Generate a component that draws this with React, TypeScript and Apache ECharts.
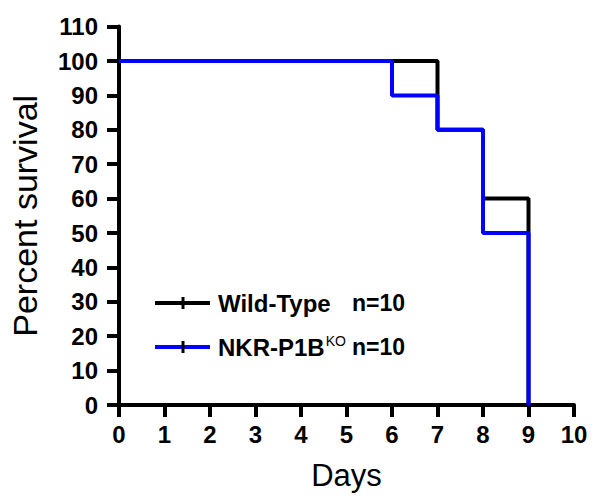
import React, { useEffect, useRef } from "react";
import * as echarts from "echarts";

const wtDays = [0, 7, 8, 9];
const wtSurvival = [100, 80, 60, 0];
const koDays = [0, 6, 7, 8, 9];
const koSurvival = [100, 90, 80, 50, 0];
const seriesNames = ["Wild-Type", "NKR-P1B"];
const seriesSup = ["", "KO"];
const seriesN = ["n=10", "n=10"];
const seriesColors = ["#000000", "#0000ff"];
const xTitle = "Days";
const yTitle = "Percent survival";

const FONT = "'Liberation Sans', Arial, sans-serif";

export default function App() {
  const ref = useRef<HTMLDivElement>(null);
  useEffect(() => {
    if (!ref.current) return;
    document.body.style.margin = "0";
    const chart = echarts.init(ref.current, null, { renderer: "svg" });
    const pair = (xs: number[], ys: number[]) => xs.map((x, i) => [x, ys[i]]);
    const legendY = [303, 347];
    const graphic: any[] = [];
    seriesNames.forEach((name, i) => {
      graphic.push({
        type: "line",
        shape: { x1: 155, y1: legendY[i], x2: 210, y2: legendY[i] },
        style: { stroke: seriesColors[i], lineWidth: 4 },
      });
      graphic.push({
        type: "line",
        shape: { x1: 183, y1: legendY[i] - 6, x2: 183, y2: legendY[i] + 6 },
        style: { stroke: "#000", lineWidth: 3 },
      });
      graphic.push({
        type: "text",
        x: 218,
        y: legendY[i],
        style: {
          text: seriesSup[i] ? `{a|${name}}{s|${seriesSup[i]}}` : `{a|${name}}`,
          verticalAlign: "middle",
          rich: {
            a: { fontFamily: FONT, fontWeight: "bold", fontSize: 24, fill: "#000" },
            s: { fontFamily: FONT, fontWeight: "normal", fontSize: 14, fill: "#000", padding: [0, 0, 12, 1] },
          },
        },
      });
      graphic.push({
        type: "text",
        x: 352,
        y: legendY[i],
        style: {
          text: seriesN[i],
          verticalAlign: "middle",
          fontFamily: FONT,
          fontWeight: "bold",
          fontSize: 23,
          fill: "#000",
        },
      });
    });
    chart.setOption({
      animation: false,
      grid: { left: 117, right: 20, top: 26.6, bottom: 95, containLabel: false },
      xAxis: {
        type: "value",
        min: 0,
        max: 10,
        interval: 1,
        name: xTitle,
        nameLocation: "middle",
        nameGap: 55,
        nameTextStyle: { fontFamily: FONT, fontSize: 31, color: "#000" },
        axisLine: { show: true, lineStyle: { color: "#000", width: 4 } },
        axisTick: { show: true, length: 12, lineStyle: { color: "#000", width: 4 } },
        axisLabel: { margin: 17, fontFamily: FONT, fontSize: 24, fontWeight: "bold", color: "#000" },
        splitLine: { show: false },
      },
      yAxis: {
        type: "value",
        min: 0,
        max: 110,
        interval: 10,
        name: yTitle,
        nameLocation: "middle",
        nameGap: 77,
        nameTextStyle: { fontFamily: FONT, fontSize: 34, color: "#000" },
        axisLine: { show: true, lineStyle: { color: "#000", width: 4 } },
        axisTick: { show: true, length: 12, lineStyle: { color: "#000", width: 4 } },
        axisLabel: { margin: 21, fontFamily: FONT, fontSize: 24, fontWeight: "bold", color: "#000" },
        splitLine: { show: false },
      },
      graphic,
      series: [
        {
          name: seriesNames[0],
          type: "line",
          step: "end",
          data: pair(wtDays, wtSurvival),
          showSymbol: false,
          lineStyle: { color: seriesColors[0], width: 4 },
          z: 2,
        },
        {
          name: seriesNames[1] + seriesSup[1],
          type: "line",
          step: "end",
          data: pair(koDays, koSurvival),
          showSymbol: false,
          lineStyle: { color: seriesColors[1], width: 4 },
          z: 3,
        },
      ],
    });
    return () => chart.dispose();
  }, []);
  return <div ref={ref} style={{ width: 594, height: 500 }} />;
}
